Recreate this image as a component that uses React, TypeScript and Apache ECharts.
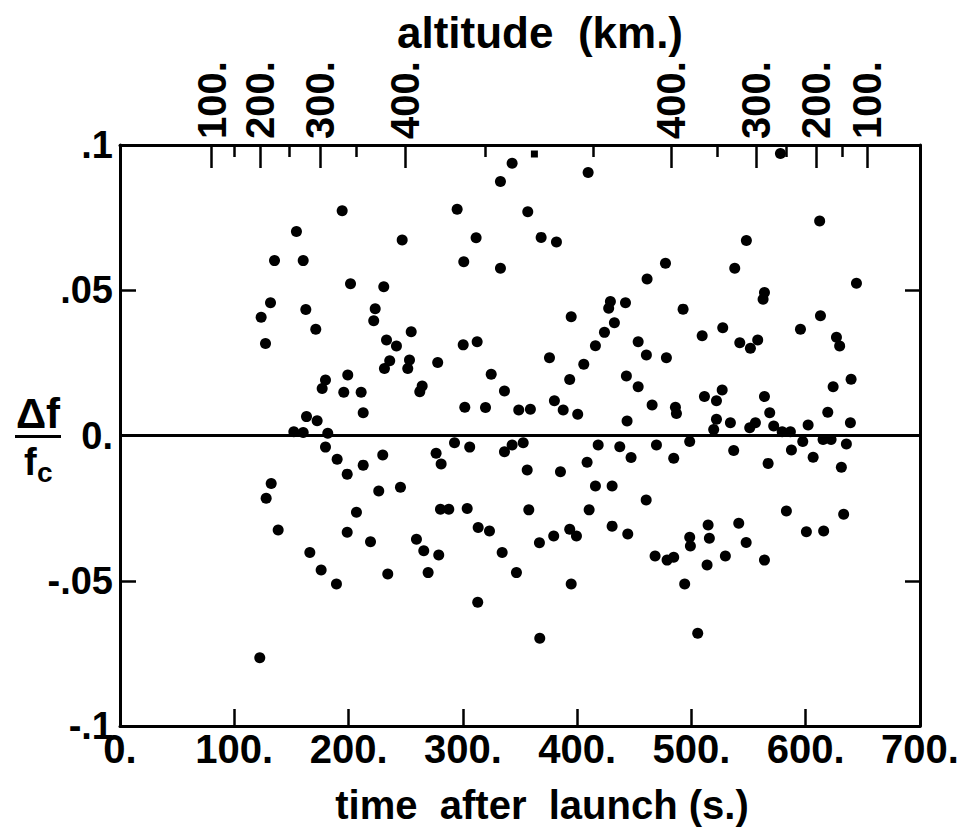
import React, { useEffect, useRef } from "react";
import * as echarts from "echarts";

// time after launch (s) and Δf/fc
const time = [122.3,123.5,127.3,127.9,131.7,132.3,135.2,138.4,152.1,154.4,160.3,160.3,162.6,163.2,166.1,171.3,172.5,176.0,176.9,179.8,179.8,181.8,189.4,190.0,194.4,195.8,198.8,198.8,199.3,201.7,206.9,211.0,212.8,212.8,219.2,222.0,223.3,226.4,230.8,229.9,231.4,233.2,234.3,236.0,241.9,245.4,246.9,251.8,253.3,254.8,259.4,262.3,264.4,265.8,269.6,276.6,278.0,278.9,280.4,281.0,287.7,292.7,295.0,300.3,300.8,301.7,303.8,306.0,311.6,312.5,313.0,313.4,319.8,323.3,324.8,332.9,332.9,334.4,336.4,336.4,343.1,343.1,346.9,348.9,352.8,356.3,356.8,357.7,359.1,367.0,367.3,368.5,375.8,379.5,380.1,381.9,385.4,387.8,393.5,393.5,394.8,394.8,399.4,400.5,405.8,408.7,409.6,410.5,416.0,416.0,418.4,423.9,427.6,429.1,430.6,430.6,432.6,437.3,442.3,443.1,443.7,444.3,447.2,453.4,453.4,460.4,460.6,461.2,465.6,468.2,469.4,477.3,478.1,478.7,484.5,484.5,486.0,486.9,492.7,494.1,498.5,498.5,499.1,505.5,509.4,511.4,513.7,514.6,515.7,519.5,521.9,521.9,526.9,527.4,529.7,534.1,537.0,537.9,541.4,542.3,547.9,548.1,551.0,551.6,556.0,558.0,562.7,563.9,563.9,563.9,567.1,568.5,572.0,577.9,579.4,583.1,586.6,587.5,595.4,597.4,600.6,602.1,606.5,612.2,612.9,615.2,615.7,619.3,622.2,624.0,626.9,629.7,631.2,633.2,635.6,639.1,639.7,644.4];
const deltaF = [-0.0765,0.0407,0.0317,-0.0216,0.0457,-0.0165,0.0602,-0.0325,0.0013,0.0702,0.0010,0.0602,0.0434,0.0065,-0.0403,0.0366,0.0051,-0.0463,0.0162,0.0191,-0.0040,0.0008,-0.0511,-0.0082,0.0774,0.0149,-0.0133,-0.0333,0.0208,0.0522,-0.0264,0.0149,0.0078,-0.0102,-0.0366,0.0395,0.0436,-0.0191,0.0512,-0.0067,0.0231,0.0329,-0.0477,0.0257,0.0308,-0.0178,0.0673,0.0231,0.0260,0.0357,-0.0357,0.0151,0.0170,-0.0397,-0.0472,-0.0061,0.0251,-0.0411,-0.0254,-0.0098,-0.0254,-0.0025,0.0779,0.0312,0.0598,0.0097,-0.0251,-0.0040,0.0681,0.0323,-0.0574,-0.0317,0.0096,-0.0329,0.0211,0.0874,0.0576,-0.0403,0.0153,-0.0056,0.0937,-0.0033,-0.0472,0.0088,-0.0025,-0.0119,0.0770,-0.0256,0.0090,-0.0369,-0.0698,0.0682,0.0268,-0.0346,0.0120,0.0666,-0.0125,0.0088,0.0193,-0.0323,0.0409,-0.0511,-0.0346,0.0073,0.0245,-0.0092,0.0905,-0.0256,0.0309,-0.0174,-0.0033,0.0355,0.0438,0.0461,-0.0174,-0.0312,0.0388,-0.0039,0.0457,0.0205,0.0050,-0.0339,-0.0076,0.0323,0.0168,-0.0222,0.0277,0.0539,0.0105,-0.0415,-0.0033,0.0593,0.0268,-0.0429,-0.0078,-0.0419,0.0097,0.0076,0.0435,-0.0511,-0.0021,-0.0350,-0.0380,-0.0681,0.0343,0.0134,-0.0446,-0.0308,-0.0354,0.0021,0.0056,0.0120,0.0157,0.0371,-0.0415,0.0044,-0.0052,0.0576,-0.0302,0.0319,-0.0368,0.0671,0.0027,0.0300,0.0044,0.0329,0.0469,0.0492,0.0134,-0.0429,-0.0096,0.0078,0.0033,0.0971,0.0013,-0.0260,0.0013,-0.0050,0.0366,-0.0021,-0.0331,0.0036,-0.0075,0.0738,0.0412,-0.0014,-0.0329,0.0080,-0.0014,0.0168,0.0338,0.0308,-0.0109,-0.0271,-0.0029,0.0044,0.0194,0.0524];

// partially printed point near the top
const clippedTime = [362.6];
const clippedDeltaF = [0.0969];

// altitude scale on top (km), positioned by time of flight (s)
const altMajorTimes = [80.1, 122.9, 175.4, 249.8, 482.2, 556.9, 609.1, 653.7];
const altMajorLabels = ["100.", "200.", "300.", "400.", "400.", "300.", "200.", "100."];
const altMinorTimes = [100.4, 147.7, 206.9, 319.7, 414.0, 523.0, 583.0, 631.8];

const yTickLabels: Record<string, string> = {
  "0.1": ".1",
  "0.05": ".05",
  "0": "0.",
  "-0.05": "-.05",
  "-0.1": "-.1",
};

const FONT = "'Liberation Sans', Arial, sans-serif";

export default function App() {
  const ref = useRef<HTMLDivElement>(null);

  useEffect(() => {
    if (!ref.current) return;
    const chart = echarts.init(ref.current, null, { renderer: "svg" });
    const pts = time.map((t, i) => [t, deltaF[i]]);
    const clipped = clippedTime.map((t, i) => [t, clippedDeltaF[i]]);
    const axisLine = { show: true, onZero: false, lineStyle: { color: "#000", width: 3 } };
    const tickLine = { color: "#000", width: 2.5 };

    chart.setOption({
      animation: false,
      backgroundColor: "#fff",
      textStyle: { fontFamily: FONT, color: "#000" },
      grid: { left: 120, right: 44, top: 145, bottom: 107, containLabel: false },
      xAxis: [
        {
          type: "value",
          position: "bottom",
          min: 0,
          max: 700,
          interval: 100,
          axisLine,
          axisTick: { show: true, inside: true, length: 17, lineStyle: tickLine },
          axisLabel: {
            show: true,
            margin: 9,
            fontSize: 40,
            lineHeight: 28,
            fontWeight: "bold",
            fontFamily: FONT,
            color: "#000",
            formatter: (v: number) => `${v}.`,
          },
          splitLine: { show: false },
        },
        {
          type: "value",
          position: "top",
          min: 0,
          max: 700,
          axisLine,
          axisTick: {
            show: true,
            inside: true,
            length: 23,
            customValues: altMajorTimes,
            lineStyle: tickLine,
          },
          axisLabel: {
            show: true,
            customValues: altMajorTimes,
            rotate: -90,
            margin: 6,
            fontSize: 40,
            fontWeight: "bold",
            fontFamily: FONT,
            color: "#000",
            formatter: (v: number) => {
              let best = 0;
              altMajorTimes.forEach((t, i) => {
                if (Math.abs(t - v) < Math.abs(altMajorTimes[best] - v)) best = i;
              });
              return altMajorLabels[best];
            },
          },
          splitLine: { show: false },
        },
        {
          type: "value",
          position: "top",
          min: 0,
          max: 700,
          axisLine: { show: false, onZero: false },
          axisTick: {
            show: true,
            inside: true,
            length: 12,
            customValues: altMinorTimes,
            lineStyle: tickLine,
          },
          axisLabel: { show: false },
          splitLine: { show: false },
        },
      ],
      yAxis: [
        {
          type: "value",
          position: "left",
          min: -0.1,
          max: 0.1,
          interval: 0.05,
          axisLine,
          axisTick: { show: true, inside: true, length: 16, lineStyle: tickLine },
          axisLabel: {
            show: true,
            margin: 7,
            fontSize: 38,
            lineHeight: 26,
            fontWeight: "bold",
            fontFamily: FONT,
            color: "#000",
            formatter: (v: number) => yTickLabels[String(Math.round(v * 100) / 100)] ?? "",
          },
          splitLine: { show: false },
        },
        {
          type: "value",
          position: "right",
          min: -0.1,
          max: 0.1,
          interval: 0.05,
          axisLine,
          axisTick: { show: true, inside: true, length: 15, lineStyle: tickLine },
          axisLabel: { show: false },
          splitLine: { show: false },
        },
      ],
      series: [
        {
          type: "scatter",
          xAxisIndex: 0,
          yAxisIndex: 0,
          data: pts,
          symbol: "circle",
          symbolSize: 11,
          itemStyle: { color: "#000", opacity: 1 },
          silent: true,
          markLine: {
            silent: true,
            symbol: ["none", "none"],
            label: { show: false },
            lineStyle: { color: "#000", width: 3, type: "solid", opacity: 1 },
            data: [{ yAxis: 0 }],
          },
        },
        {
          type: "scatter",
          xAxisIndex: 0,
          yAxisIndex: 0,
          data: clipped,
          symbol: "rect",
          symbolSize: 7,
          itemStyle: { color: "#000", opacity: 1 },
          silent: true,
        },
      ],
      graphic: [
        {
          type: "text",
          style: {
            text: "altitude  (km.)",
            x: 540,
            y: 32,
            textAlign: "center",
            textVerticalAlign: "middle",
            font: `bold 44px ${FONT}`,
            fill: "#000",
          },
        },
        {
          type: "text",
          style: {
            text: "time  after  launch (s.)",
            x: 542,
            y: 805,
            textAlign: "center",
            textVerticalAlign: "middle",
            font: `bold 40px ${FONT}`,
            fill: "#000",
          },
        },
        {
          type: "text",
          style: {
            text: "Δf",
            x: 38,
            y: 434,
            textAlign: "center",
            textVerticalAlign: "bottom",
            font: `bold 42px ${FONT}`,
            fill: "#000",
          },
        },
        {
          type: "rect",
          shape: { x: 15, y: 435, width: 46, height: 3 },
          style: { fill: "#000" },
        },
        {
          type: "text",
          style: {
            text: "f",
            x: 24,
            y: 443,
            textAlign: "left",
            textVerticalAlign: "top",
            font: `bold 38px ${FONT}`,
            fill: "#000",
          },
        },
        {
          type: "text",
          style: {
            text: "c",
            x: 37,
            y: 458,
            textAlign: "left",
            textVerticalAlign: "top",
            font: `bold 28px ${FONT}`,
            fill: "#000",
          },
        },
      ],
    });

    return () => chart.dispose();
  }, []);

  return (
    <div
      ref={ref}
      style={{ position: "fixed", left: 0, top: 0, width: 964, height: 833, background: "#fff" }}
    />
  );
}
